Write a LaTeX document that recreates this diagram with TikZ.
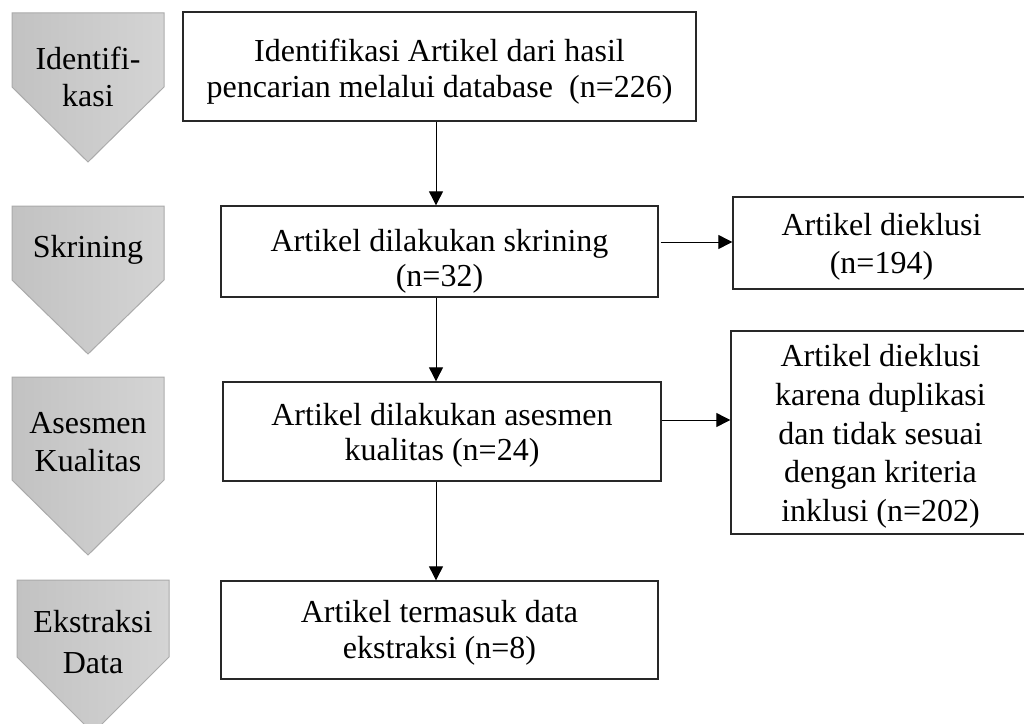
\documentclass[tikz,border=0pt]{standalone}
\usepackage{fontspec}
\setmainfont{Liberation Serif}
\usetikzlibrary{arrows.meta,calc}
\definecolor{pentL}{RGB}{194,194,194}
\definecolor{pentR}{RGB}{212,212,212}
\definecolor{pentB}{RGB}{170,170,170}
\definecolor{boxB}{RGB}{40,40,40}
\newcommand\lowr[1]{\rule{0pt}{#1}}
\tikzset{
  pent/.style={draw=pentB, line width=0.75pt, left color=pentL, right color=pentR},
  ptext/.style={align=center, inner sep=0pt, font=\fontsize{24}{28}\selectfont},
  flowbox/.style={draw=boxB, line width=1pt, align=center, inner sep=0pt, font=\fontsize{24}{27}\selectfont},
  arr/.style={line width=0.75pt, -{Triangle[length=10.5pt,width=10.5pt]}}
}
\begin{document}
\begin{tikzpicture}[x=0.75pt,y=-0.75pt]
\useasboundingbox (0,0) rectangle (1024,724);
% left stage pentagons
\path[pent] (12,13) -- (164,13) -- (164,87) -- (88,162) -- (12,87) -- cycle;
\path[pent] (12,206) -- (164,206) -- (164,280) -- (88,354) -- (12,280) -- cycle;
\path[pent] (12,377) -- (164,377) -- (164,480) -- (88,555) -- (12,480) -- cycle;
\path[pent] (17,580) -- (169,580) -- (169,657) -- (93,733) -- (17,657) -- cycle;
\node[ptext] (s1) at (88,77) {Identifi-\\kasi};
\node[ptext] (s2) at (88,250) {Skrining};
\node[ptext] (s3) at (88,442) {Asesmen\\Kualitas};
\node[ptext, font=\fontsize{24}{30.5}\selectfont] (s4) at (93,642) {Ekstraksi\\Data};
% flow boxes
\node[flowbox, minimum width=384.75pt, minimum height=81.75pt] (b1) at (439.5,66.5)
  {\lowr{24.5pt}Identifikasi Artikel dari hasil\\pencarian melalui database\ \ (n=226)};
\node[flowbox, minimum width=327.75pt, minimum height=68.25pt, font=\fontsize{24}{26.5}\selectfont] (b2) at (439.5,251.5)
  {\lowr{31pt}Artikel dilakukan skrining\\(n=32)};
\node[flowbox, minimum width=328.5pt, minimum height=74.25pt, font=\fontsize{24}{26.5}\selectfont] (b3) at (442,431.5)
  {\lowr{22pt}Artikel dilakukan asesmen\\kualitas (n=24)};
\node[flowbox, minimum width=327.75pt, minimum height=73.5pt] (b6) at (439.5,630)
  {\lowr{20.5pt}Artikel termasuk data\\ekstraksi (n=8)};
\node[flowbox, minimum width=222.75pt, minimum height=69pt, font=\fontsize{24}{29}\selectfont] (b4) at (881.5,243)
  {\lowr{22.5pt}Artikel dieklusi\\(n=194)};
\node[flowbox, minimum width=224.25pt, minimum height=152.25pt, font=\fontsize{24}{29}\selectfont] (b5) at (880.5,432.5)
  {\lowr{22.5pt}Artikel dieklusi\\karena duplikasi\\dan tidak sesuai\\dengan kriteria\\inklusi (n=202)};
% connectors
\coordinate (ax) at (436,0);
\coordinate (h1) at (0,242);
\coordinate (h2) at (0,420);
\draw[arr] (b1.south -| ax) -- (b2.north -| ax);
\draw[arr] (b2.south -| ax) -- (b3.north -| ax);
\draw[arr] (b3.south -| ax) -- (b6.north -| ax);
\draw[arr] ($(b2.east |- h1)+(2,0)$) -- (b4.west |- h1);
\draw[arr] (b3.east |- h2) -- (b5.west |- h2);
\end{tikzpicture}
\end{document}
